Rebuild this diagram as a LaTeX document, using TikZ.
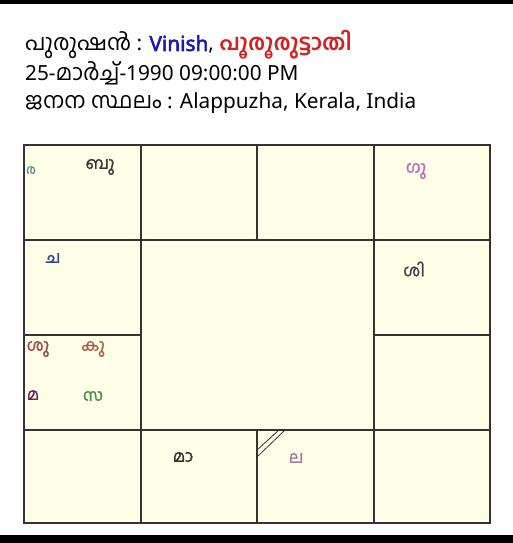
\documentclass[tikz,border=0pt]{standalone}
\usepackage{fontspec}
\setmainfont{Noto Sans}
\newfontfamily\latbold{Noto Sans}[FakeBold=2.5]
\newfontfamily\mlfont[Script=Malayalam,Scale=1.07]{Hind Kochi}
\newfontfamily\mlbold[Script=Malayalam,Scale=1.07,FakeBold=1.5]{Hind Kochi}
\newcommand{\ml}[1]{{\mlfont #1}}
\definecolor{cellbg}{HTML}{FFFFE8}
\definecolor{gridline}{HTML}{333333}
\definecolor{vblue}{HTML}{1A1AB0}
\definecolor{vred}{HTML}{D42020}
\definecolor{cRa}{HTML}{5A9A8A}
\definecolor{cBu}{HTML}{3A3A3A}
\definecolor{cGu}{HTML}{C068C0}
\definecolor{cCha}{HTML}{3545A0}
\definecolor{cShi}{HTML}{404040}
\definecolor{cShu}{HTML}{A04848}
\definecolor{cKu}{HTML}{A86050}
\definecolor{cMa}{HTML}{702060}
\definecolor{cSa}{HTML}{50904A}
\definecolor{cMaa}{HTML}{303030}
\definecolor{cLa}{HTML}{A07898}
\tikzset{
  hdr/.style={anchor=base west, inner sep=0pt, font=\fontsize{20.8}{22}\selectfont},
  plabel/.style={inner sep=0pt, font=\mlbold\fontsize{15.5}{16}\selectfont},
  cellline/.style={draw=gridline, line width=1.3pt},
}
\begin{document}
\begin{tikzpicture}[x=1pt,y=-1pt]
\useasboundingbox (0,0) rectangle (513,543);
\fill[white] (0,0) rectangle (513,543);
% bars
\fill[black] (0,0) rectangle (513,4);
\fill[black] (0,535) rectangle (513,543);
% header
\node[hdr] (h1) at (25,51) {\ml{പുരുഷൻ} : \textcolor{vblue}{\latbold Vinish}, \textcolor{vred}{\ml{\textbf{പൂരൂരുട്ടാതി}}}};
\node[hdr] (h2) at (25,80) {25-\ml{മാർച്ച്}-1990 09:00:00 PM};
\node[hdr] (h3) at (25,108) {\ml{ജനന സ്ഥലം} : Alappuzha, Kerala, India};
% grid
\fill[cellbg] (24,145) rectangle (490,523);
\draw[cellline] (24,145) rectangle (490,523);
\draw[cellline] (24,240) -- (490,240);
\draw[cellline] (24,430) -- (490,430);
\draw[cellline] (24,335) -- (141,335);
\draw[cellline] (374,335) -- (490,335);
\draw[cellline] (141,145) -- (141,523);
\draw[cellline] (374,145) -- (374,523);
\draw[cellline] (257,145) -- (257,240);
\draw[cellline] (257,430) -- (257,523);
% lagna mark
\coordinate (la1) at (279,430);
\coordinate (la2) at (257,450);
\coordinate (lb1) at (285,430);
\coordinate (lb2) at (258,456);
\draw[gridline, line width=0.8pt] (la1) -- (la2);
\draw[gridline, line width=0.8pt] (lb1) -- (lb2);
% planet labels
\node[plabel, text=cRa, font=\mlbold\fontsize{12.5}{13}\selectfont] (ra) at (31,170) {ര};
\node[plabel, text=cBu] (bu) at (100,167) {ബു};
\node[plabel, text=cGu] (gu) at (416,171) {ഗു};
\node[plabel, text=cCha] (cha) at (53,258) {ച};
\node[plabel, text=cShi] (shi) at (414,269) {ശി};
\node[plabel, text=cShu] (shu) at (38,349) {ശു};
\node[plabel, text=cKu] (ku) at (93,349) {കു};
\node[plabel, text=cMa] (ma) at (33,395) {മ};
\node[plabel, text=cSa] (sa) at (93,396) {സ};
\node[plabel, text=cMaa] (maa) at (183,457) {മാ};
\node[plabel, text=cLa] (la) at (296,458) {ല};
\end{tikzpicture}
\end{document}
